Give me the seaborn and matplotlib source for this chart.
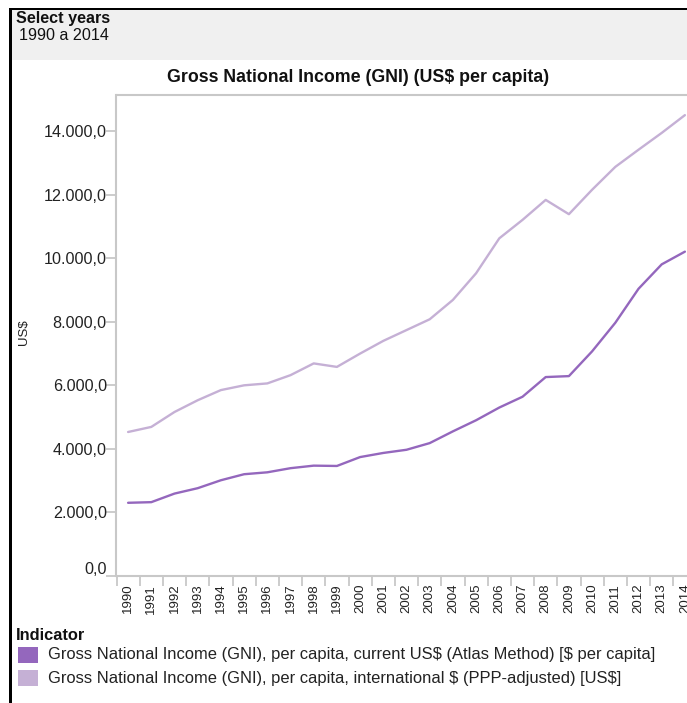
import matplotlib
matplotlib.use("Agg")
import matplotlib.pyplot as plt
import matplotlib.transforms as mtransforms
from matplotlib.patches import Rectangle
import seaborn as sns
import pandas as pd

years = list(range(1990, 2015))
atlas = [2290, 2310, 2580, 2750, 3000, 3190, 3250, 3380, 3460, 3450,
         3730, 3860, 3960, 4170, 4540, 4890, 5290, 5630, 6250, 6280,
         7060, 7960, 9030, 9800, 10200]
ppp = [4520, 4680, 5150, 5520, 5840, 5990, 6050, 6310, 6680, 6570,
       6990, 7390, 7730, 8070, 8680, 9520, 10620, 11200, 11830, 11380,
       12150, 12870, 13410, 13940, 14500]
series_names = [
    "Gross National Income (GNI), per capita, current US$ (Atlas Method) [$ per capita]",
    "Gross National Income (GNI), per capita, international $ (PPP-adjusted) [US$]",
]
colors = ["#9467bd", "#c5b0d5"]
y_ticks = [0, 2000, 4000, 6000, 8000, 10000, 12000, 14000]
y_labels = ["0,0", "2.000,0", "4.000,0", "6.000,0", "8.000,0", "10.000,0", "12.000,0", "14.000,0"]
title = "Gross National Income (GNI) (US$ per capita)"
y_title = "US$"
header_title = "Select years"
header_value = "1990 a 2014"
legend_title = "Indicator"

df = pd.DataFrame({
    "year": years * 2,
    "value": atlas + ppp,
    "Indicator": [series_names[0]] * len(years) + [series_names[1]] * len(years),
})

sns.set_theme(style="white")
plt.rcParams["font.family"] = ["Liberation Sans", "DejaVu Sans"]
plt.rcParams["text.parse_math"] = False

W, H = 687, 703
fig = plt.figure(figsize=(W / 100, H / 100), dpi=100)
fig.patch.set_facecolor("white")

def px(x, y):
    return x / W, 1 - y / H

# header
fig.patches.append(Rectangle(px(12, 60), (W - 12) / W, 50 / H, transform=fig.transFigure,
                             facecolor="#f0f0f0", edgecolor="none", zorder=0))
fig.patches.append(Rectangle(px(9, 10), (W - 9) / W, 2.5 / H, transform=fig.transFigure,
                             facecolor="black", edgecolor="none", zorder=2))
fig.patches.append(Rectangle(px(9, H), 2.5 / W, (H - 8) / H, transform=fig.transFigure,
                             facecolor="black", edgecolor="none", zorder=2))
fig.text(*px(16, 19), header_title, fontsize=11.6, fontweight="bold", va="center", ha="left", color="#111")
fig.text(*px(19, 35), header_value, fontsize=11.6, va="center", ha="left", color="#111")

left, right, top, bottom = 116.5, 696.5, 95, 575.5
ax = fig.add_axes([left / W, 1 - bottom / H, (right - left) / W, (bottom - top) / H])

sns.lineplot(data=df, x="year", y="value", hue="Indicator", palette=colors,
             hue_order=series_names, linewidth=1.7, ax=ax, legend=False)

ax.set_xlim(1989.5, 2014.5)
ax.set_ylim(0, 15134)
ax.set_xticks(years)
ax.set_xticklabels([str(y) for y in years], rotation=90, fontsize=9.5, color="#222")
ax.set_xticks([y - 0.5 for y in years] + [2014.5], minor=True)
ax.tick_params(axis="x", which="major", length=0, pad=6)
ax.tick_params(axis="x", which="minor", length=7, width=1.3, color="#c8c8c8", bottom=True)
ax.set_yticks(y_ticks)
ax.set_yticklabels(y_labels, fontsize=11.6, color="#222")
ax.tick_params(axis="y", which="major", length=7, width=1.3, color="#c8c8c8", pad=0, left=True)
ax.set_xlabel("")
ax.set_ylabel("")
for s in ax.spines.values():
    s.set_color("#c8c8c8")
    s.set_linewidth(1.5)
ax.grid(False)

# shift "0,0" label upward like the reference
t0 = ax.yaxis.get_major_ticks()[0].label1
t0.set_transform(t0.get_transform() + mtransforms.ScaledTranslation(0, 8 / 100, fig.dpi_scale_trans))

fig.text(*px(358, 78), title, fontsize=12.8, fontweight="bold", ha="center", va="center", color="#111")
fig.text(*px(24, 332), y_title, fontsize=9.5, rotation=90, ha="center", va="center", color="#222")

# legend
fig.text(*px(16, 636), legend_title, fontsize=11.8, fontweight="bold", ha="left", va="center", color="#111")
rows_y = [655, 678]
for name, c, yy in zip(series_names, colors, rows_y):
    fig.patches.append(Rectangle(px(18, yy + 8), 20 / W, 16 / H, transform=fig.transFigure,
                                 facecolor=c, edgecolor="none"))
    fig.text(*px(48, yy), name, fontsize=11.85, ha="left", va="center", color="#222")

fig.savefig("out.png", dpi=100)
